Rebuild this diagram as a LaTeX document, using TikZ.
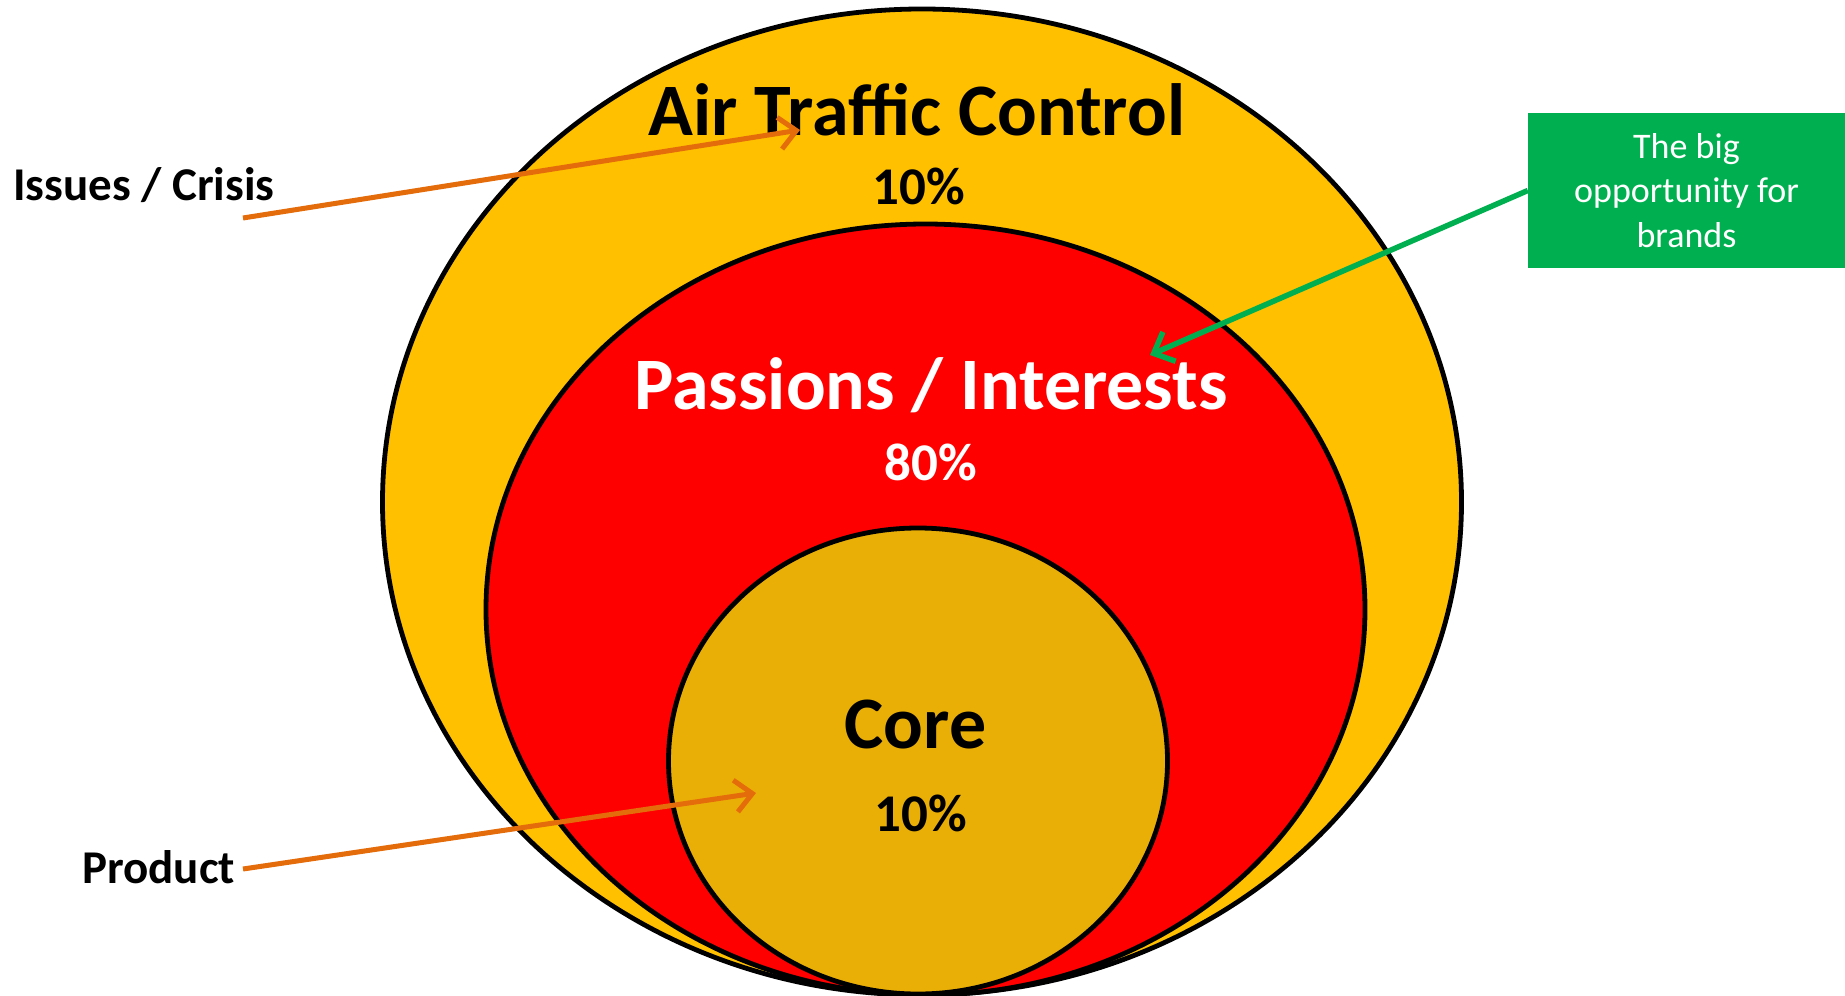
\documentclass[tikz,border=0pt]{standalone}
\usepackage{fontspec}
\setmainfont{Carlito}
\usepackage{tikz}
\usetikzlibrary{shapes.geometric,arrows.meta}
\definecolor{atcyellow}{HTML}{FFC000}
\definecolor{passred}{HTML}{FF0000}
\definecolor{coregold}{HTML}{EAAF06}
\definecolor{callorange}{HTML}{E46C0A}
\definecolor{brandgreen}{HTML}{00B050}
\tikzset{
  ring/.style={ellipse,draw=black,line width=4.8pt,inner sep=0pt},
  bigtxt/.style={anchor=base,inner sep=0pt,font=\bfseries\fontsize{74}{80}\selectfont},
  pcttxt/.style={anchor=base,inner sep=0pt,font=\bfseries\fontsize{53}{58}\selectfont},
  sidetxt/.style={anchor=base west,inner sep=0pt,font=\bfseries\fontsize{47}{52}\selectfont},
  callout/.style={line width=5pt,-{Straight Barb[length=17pt,width=32pt]}}
}
\begin{document}
\begin{tikzpicture}[x=1pt,y=-1pt]
\useasboundingbox (0,0) rectangle (1845,996);

% the three rings
\path (922,502) node[ring,fill=atcyellow,minimum width=1079pt,minimum height=986pt] (atc) {};
\path (925.5,609.5) node[ring,fill=passred,minimum width=879pt,minimum height=771pt] (pass) {};
\path (918,761) node[ring,fill=coregold,minimum width=499pt,minimum height=466pt] (core) {};

\path (917,135) node[bigtxt] (atct) {Air Traffic Control};
\path (919,204) node[pcttxt] (atcp) {10\%};
\path (931,409) node[bigtxt,text=white] (passt) {Passions / Interests};
\path (931,480) node[pcttxt,text=white] (passp) {80\%};
\path (915.5,748) node[bigtxt] (coret) {Core};
\path (921,831) node[pcttxt] (corep) {10\%};

% side labels
\path (13,200) node[sidetxt] (issues) {Issues / Crisis};
\path (82,883) node[sidetxt] (product) {Product};
\path (1686.5,190.5) node[fill=brandgreen,text=white,minimum width=317pt,minimum height=155pt,
  inner sep=0pt,align=center,font=\fontsize{36}{44.5}\selectfont] (brands) {The big\\opportunity for\\brands};

\coordinate (issuesA) at (243,218);
\coordinate (issuesB) at (800,130);
\coordinate (productA) at (243,869);
\coordinate (productB) at (756,793);
\coordinate (brandsB) at (1150,355);

\draw[callout,draw=callorange] (issuesA) -- (issuesB);
\draw[callout,draw=callorange] (productA) -- (productB);
\draw[callout,draw=brandgreen,line width=5.5pt] (brands.west) -- (brandsB);
\end{tikzpicture}
\end{document}
